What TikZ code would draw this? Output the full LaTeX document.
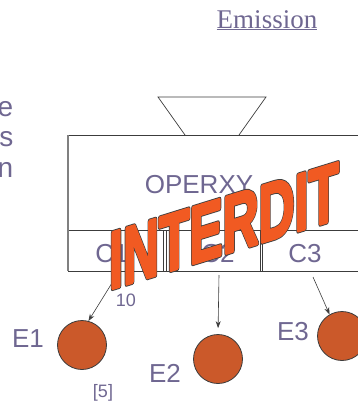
\documentclass[tikz,border=0pt]{standalone}
\usepackage{fontspec}
\setmainfont{Liberation Sans}
\newfontfamily\titlefont{Liberation Serif}
\usetikzlibrary{arrows.meta}
\definecolor{labelgray}{RGB}{111,103,145}
\definecolor{ballred}{RGB}{203,89,42}
\definecolor{stampred}{RGB}{241,90,34}
\definecolor{linegray}{RGB}{60,60,60}
% text drawn with a stroke of given width and colour
\newcommand\strokedtext[3]{\special{pdf:literal direct 2 Tr #1 w 1 j #2 RG}#3\special{pdf:literal direct 0 Tr}}

\begin{document}
\begin{tikzpicture}[x=1pt, y=-1pt,
    lbl/.style={text=labelgray, font=\fontsize{26}{30}\selectfont, inner sep=0pt, anchor=base},
    small/.style={text=labelgray, font=\fontsize{18}{21}\selectfont, inner sep=0pt, anchor=base},
    ball/.style={circle, draw=linegray, line width=0.8pt, fill=ballred, minimum size=49pt, inner sep=0pt},
    boxline/.style={draw=linegray, line width=0.7pt},
    arr/.style={-{Stealth[length=7pt,width=5pt]}, draw=linegray, line width=0.6pt},
    stamp/.style={inner sep=0pt, yslant=0.31, xscale=0.615, transform shape, font=\bfseries\fontsize{81}{81}\selectfont}
]
\useasboundingbox (0,0) rectangle (357,405);

% title
\node[anchor=base, text=labelgray, inner sep=0pt, font=\titlefont\fontsize{27}{30}\selectfont] (title) at (267,28) {\underline{Emission}};

% cut off text on the left
\node[lbl, anchor=base east, font=\fontsize{28}{32}\selectfont] (cute) at (13.5,116) {e};
\node[lbl, anchor=base east, font=\fontsize{28}{32}\selectfont] (cuts) at (13.5,146) {s};
\node[lbl, anchor=base east, font=\fontsize{28}{32}\selectfont] (cutn) at (13.5,177) {n};

% operator box
\draw[boxline] (185,135) -- (158,97) -- (266,97) -- (239,135);
\draw[boxline] (68,135) -- (400,135);
\draw[boxline] (68,230) -- (400,230);
\draw[boxline] (68,271) -- (400,271);
\draw[boxline] (163,230) -- (163,271);
\draw[boxline] (166,230) -- (166,271);
\draw[boxline] (260,230) -- (260,271);
\draw[boxline] (262,230) -- (262,271);
\draw[draw=gray, line width=1.6pt] (68,135) -- (68,271);

\node[lbl] (operxy) at (199,193) {OPERXY};
\node[lbl] (c1) at (112,262) {C1};
\node[lbl] (c2) at (218,262) {C2};
\node[lbl] (c3) at (305,262) {C3};

% outputs
\node[ball] (e1c) at (82,345) {};
\node[ball] (e2c) at (218,359) {};
\node[ball] (e3c) at (342,336) {};
\node[lbl] (e1) at (28,347) {E1};
\node[lbl] (e2) at (165,382) {E2};
\node[lbl] (e3) at (293,340) {E3};
\node[small] (ten) at (126,306) {10};
\node[small] (five) at (103,397) {[5]};

\coordinate (a1) at (112,283);
\coordinate (a2) at (219,275);
\coordinate (a3) at (313,277);
\draw[arr] (a1) -- (e1c.75);
\draw[arr, shorten >=6pt] (a2) -- (e2c.north);
\draw[arr] (a3) -- (e3c.120);

% stamp: dark border under an orange body
\node[stamp, text=linegray] (stampback) at (224,226) {\strokedtext{5.2}{0.25 0.25 0.25}{INTERDIT}};
\node[stamp, text=stampred] (stamp) at (224,226) {\strokedtext{3.4}{0.945 0.353 0.133}{INTERDIT}};
\end{tikzpicture}
\end{document}
